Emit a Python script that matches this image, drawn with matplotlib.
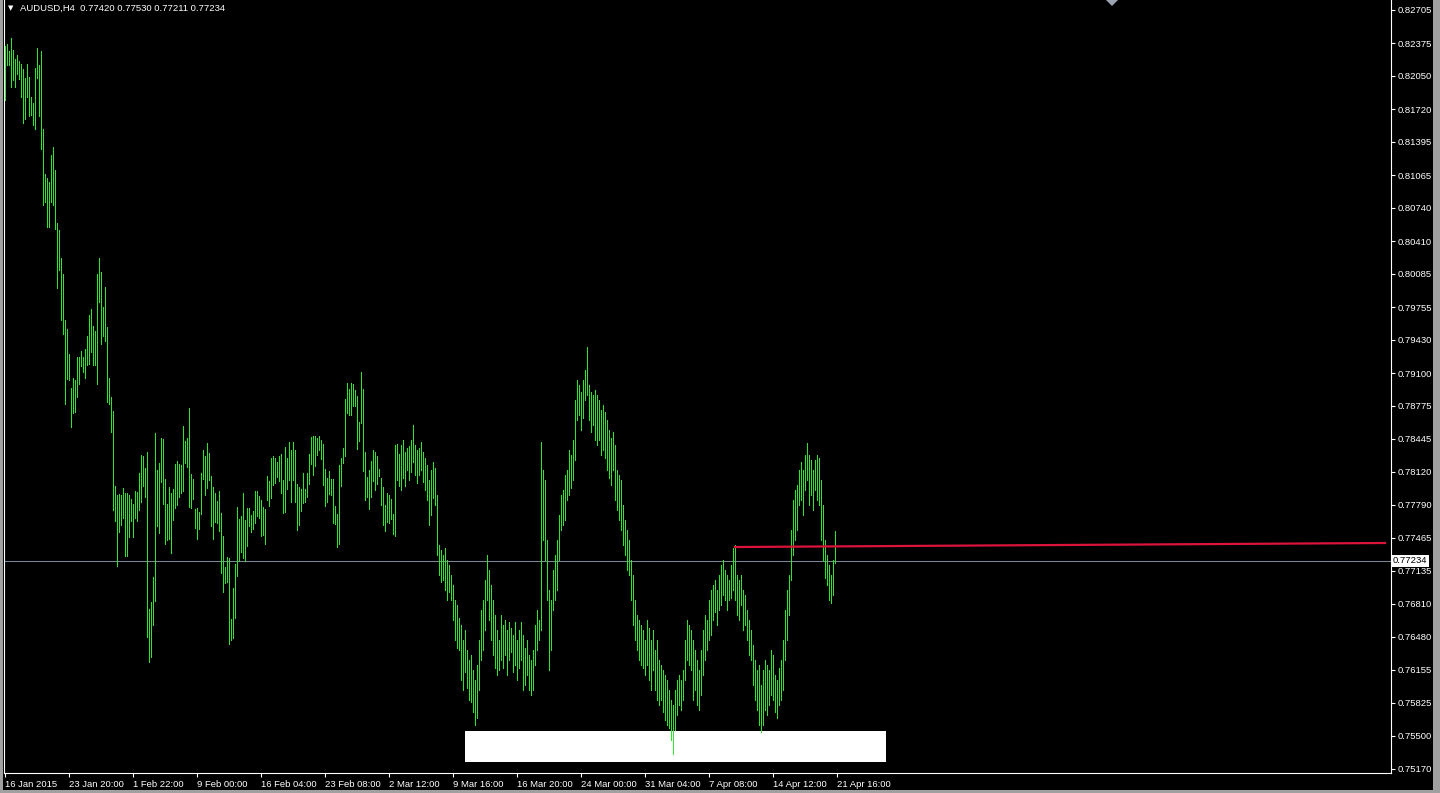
import matplotlib
matplotlib.use('Agg')
import matplotlib.pyplot as plt
from matplotlib.patches import Rectangle, Polygon

# H4 bars, high / low
highs = [
    0.82347, 0.82367, 0.82298, 0.82427, 0.82308, 0.82218, 0.82258, 0.82198, 0.82169, 0.82119,
    0.82029, 0.82169, 0.82039, 0.81841, 0.81781, 0.82129, 0.82327, 0.82159, 0.82298, 0.81523,
    0.81076, 0.81036, 0.80997, 0.81265, 0.81344, 0.81116, 0.80590, 0.80520, 0.80242, 0.80083,
    0.79626, 0.79537, 0.79289, 0.78951, 0.79051, 0.79031, 0.79259, 0.79259, 0.79319, 0.79259,
    0.79338, 0.79467, 0.79676, 0.79736, 0.79567, 0.79517, 0.80083, 0.80242, 0.80103, 0.79755,
    0.79954, 0.79557, 0.79051, 0.78862, 0.78723, 0.77978, 0.77889, 0.77899, 0.77889, 0.77958,
    0.77909, 0.77909, 0.77889, 0.77849, 0.77799, 0.77929, 0.77919, 0.78107, 0.78286, 0.78276,
    0.78157, 0.78316, 0.76757, 0.76826, 0.77074, 0.78504, 0.78137, 0.78206, 0.78455, 0.78445,
    0.78048, 0.77799, 0.77968, 0.77909, 0.77948, 0.78196, 0.78226, 0.78196, 0.78186, 0.78574,
    0.78425, 0.78455, 0.78753, 0.78097, 0.78048, 0.77750, 0.77760, 0.77720, 0.78107, 0.78336,
    0.78276, 0.78405, 0.78306, 0.78077, 0.77968, 0.77909, 0.77829, 0.77929, 0.77710, 0.77482,
    0.77174, 0.77273, 0.77263, 0.76657, 0.76963, 0.77204, 0.77770, 0.77650, 0.77680, 0.77909,
    0.77640, 0.77760, 0.77760, 0.77690, 0.77730, 0.77929, 0.77929, 0.77879, 0.77839, 0.77770,
    0.77750, 0.78077, 0.78028, 0.78256, 0.78276, 0.78256, 0.78216, 0.78276, 0.78296, 0.78038,
    0.78365, 0.78256, 0.78415, 0.78336, 0.78415, 0.78336, 0.77998, 0.77968, 0.77948, 0.78107,
    0.77948, 0.78107, 0.78296, 0.78465, 0.78475, 0.78475, 0.78455, 0.78475, 0.78435, 0.78395,
    0.78147, 0.78058, 0.78127, 0.78048, 0.78048, 0.77780, 0.77700, 0.78186, 0.78256, 0.78355,
    0.78842, 0.79001, 0.78941, 0.79001, 0.78991, 0.78931, 0.78872, 0.78614, 0.79110, 0.78941,
    0.78316, 0.78067, 0.78137, 0.78226, 0.78336, 0.78316, 0.78276, 0.78147, 0.78058, 0.77968,
    0.77789, 0.77909, 0.77889, 0.77849, 0.77700, 0.78385, 0.78395, 0.78296, 0.78385, 0.78435,
    0.78316, 0.78356, 0.78375, 0.78435, 0.78584, 0.78385, 0.78336, 0.78356, 0.78415, 0.78316,
    0.78256, 0.78186, 0.78038, 0.78137, 0.78216, 0.78157, 0.77889, 0.77392, 0.77343, 0.77293,
    0.77363, 0.77243, 0.77194, 0.77094, 0.76995, 0.76846, 0.76796, 0.76667, 0.76597, 0.76449,
    0.76548, 0.76349, 0.76250, 0.76299, 0.76151, 0.76052, 0.76200, 0.76449, 0.76747, 0.76846,
    0.77045, 0.77293, 0.77144, 0.76995, 0.76846, 0.76697, 0.76548, 0.76449, 0.76697, 0.76597,
    0.76647, 0.76548, 0.76627, 0.76568, 0.76498, 0.76627, 0.76449, 0.76548, 0.76627, 0.76498,
    0.76370, 0.76449, 0.76299, 0.76250, 0.76349, 0.76597, 0.76747, 0.76647, 0.78415, 0.78137,
    0.78038, 0.77442, 0.76945, 0.76846, 0.77144, 0.77293, 0.77442, 0.77690, 0.77889, 0.77938,
    0.78087, 0.78137, 0.78336, 0.78286, 0.78435, 0.78832, 0.79031, 0.78981, 0.78911, 0.79031,
    0.79130, 0.79358, 0.78981, 0.78911, 0.78882, 0.78931, 0.78882, 0.78832, 0.78733, 0.78782,
    0.78713, 0.78634, 0.78534, 0.78455, 0.78514, 0.78385, 0.78137, 0.78087, 0.78038, 0.77789,
    0.77640, 0.77541, 0.77442, 0.77243, 0.77094, 0.76846, 0.76697, 0.76647, 0.76597, 0.76548,
    0.76449, 0.76647, 0.76568, 0.76449, 0.76548, 0.76349, 0.76449, 0.76250, 0.76200, 0.76151,
    0.76101, 0.76052, 0.75952, 0.75853, 0.75803, 0.75952, 0.76052, 0.76101, 0.76052, 0.76151,
    0.76449, 0.76647, 0.76597, 0.76548, 0.76449, 0.76349, 0.76250, 0.76151, 0.76349, 0.76548,
    0.76697, 0.76647, 0.76846, 0.76945, 0.76995, 0.77045, 0.76945, 0.77094, 0.77194, 0.77243,
    0.77144, 0.77094, 0.77045, 0.77194, 0.77363, 0.77392, 0.77094, 0.77045, 0.77094, 0.76945,
    0.76895, 0.76747, 0.76647, 0.76548, 0.76399, 0.76250, 0.76151, 0.76200, 0.76002, 0.76151,
    0.76250, 0.76200, 0.76151, 0.76349, 0.76299, 0.76101, 0.76052, 0.76171, 0.76250, 0.76449,
    0.76747, 0.76945, 0.77094, 0.77541, 0.77839, 0.77938, 0.77988, 0.78137, 0.78216, 0.78137,
    0.78286, 0.78405, 0.78286, 0.78236, 0.78137, 0.78236, 0.78286, 0.78256, 0.78038, 0.77789,
    0.77442, 0.77293, 0.77194, 0.77094, 0.77243, 0.77530,
]
lows = [
    0.81811, 0.82159, 0.82159, 0.81940, 0.82010, 0.81940, 0.82069, 0.82020, 0.81841, 0.81583,
    0.81622, 0.81841, 0.81652, 0.81662, 0.81563, 0.81523, 0.82029, 0.81652, 0.81324, 0.80768,
    0.80798, 0.80550, 0.80550, 0.80798, 0.80768, 0.80530, 0.79944, 0.80123, 0.79626, 0.79487,
    0.78792, 0.79041, 0.79031, 0.78564, 0.78703, 0.78713, 0.78862, 0.78991, 0.79170, 0.79110,
    0.79051, 0.79180, 0.79190, 0.79309, 0.79180, 0.79180, 0.78991, 0.79805, 0.79388, 0.79468,
    0.79418, 0.78812, 0.78792, 0.78514, 0.77740, 0.77631, 0.77184, 0.77521, 0.77591, 0.77660,
    0.77283, 0.77283, 0.77472, 0.77631, 0.77472, 0.77660, 0.77631, 0.77740, 0.77820, 0.77978,
    0.77869, 0.76479, 0.76230, 0.76280, 0.76598, 0.76836, 0.77581, 0.77511, 0.78018, 0.77799,
    0.77402, 0.77442, 0.77452, 0.77313, 0.77640, 0.77760, 0.77789, 0.77869, 0.77909, 0.77929,
    0.78206, 0.78167, 0.77770, 0.77760, 0.77849, 0.77561, 0.77452, 0.77551, 0.77700, 0.78048,
    0.77889, 0.77958, 0.78038, 0.77581, 0.77452, 0.77621, 0.77611, 0.77531, 0.77110, 0.76922,
    0.77015, 0.77025, 0.76409, 0.76449, 0.76469, 0.76667, 0.77088, 0.77233, 0.77323, 0.77263,
    0.77233, 0.77382, 0.77581, 0.77521, 0.77551, 0.77611, 0.77680, 0.77660, 0.77482, 0.77492,
    0.77402, 0.77839, 0.77780, 0.77859, 0.77988, 0.78008, 0.78067, 0.78028, 0.77909, 0.77710,
    0.77720, 0.77948, 0.78038, 0.77820, 0.78038, 0.77820, 0.77541, 0.77591, 0.77730, 0.77809,
    0.77820, 0.77869, 0.77998, 0.78196, 0.78087, 0.78176, 0.78286, 0.78336, 0.78246, 0.77988,
    0.77780, 0.77820, 0.77899, 0.77889, 0.77611, 0.77601, 0.77372, 0.77402, 0.77978, 0.78206,
    0.78276, 0.78703, 0.78683, 0.78683, 0.78772, 0.78772, 0.78345, 0.78425, 0.78604, 0.78127,
    0.77839, 0.77869, 0.77750, 0.77869, 0.78028, 0.77938, 0.77998, 0.78077, 0.77789, 0.77591,
    0.77531, 0.77621, 0.77611, 0.77650, 0.77502, 0.77482, 0.78038, 0.77978, 0.77938, 0.78058,
    0.77978, 0.78137, 0.78038, 0.78117, 0.78216, 0.78087, 0.78008, 0.78087, 0.78137, 0.78018,
    0.77938, 0.77839, 0.77591, 0.77690, 0.77859, 0.77789, 0.77293, 0.77094, 0.77025, 0.77045,
    0.76945, 0.76846, 0.76925, 0.76846, 0.76647, 0.76449, 0.76370, 0.76349, 0.76052, 0.75952,
    0.76131, 0.75973, 0.75853, 0.75833, 0.75734, 0.75604, 0.75675, 0.75952, 0.76250, 0.76349,
    0.76548, 0.76846, 0.76647, 0.76449, 0.76299, 0.76171, 0.76101, 0.76151, 0.76250, 0.76171,
    0.76299, 0.76101, 0.76250, 0.76329, 0.76131, 0.76200, 0.76052, 0.76171, 0.76250, 0.75952,
    0.76002, 0.76101, 0.75952, 0.75902, 0.75952, 0.76200, 0.76349, 0.76449, 0.76548, 0.77442,
    0.77243, 0.76846, 0.76151, 0.76349, 0.76747, 0.76846, 0.76945, 0.77243, 0.77541, 0.77591,
    0.77640, 0.77839, 0.77889, 0.77958, 0.78038, 0.78236, 0.78634, 0.78683, 0.78534, 0.78653,
    0.78832, 0.78882, 0.78634, 0.78514, 0.78584, 0.78435, 0.78385, 0.78435, 0.78286, 0.78336,
    0.78256, 0.78137, 0.78058, 0.77988, 0.78137, 0.77839, 0.77740, 0.77640, 0.77541, 0.77392,
    0.77293, 0.77144, 0.77094, 0.76846, 0.76597, 0.76449, 0.76349, 0.76250, 0.76200, 0.76171,
    0.76101, 0.76200, 0.76052, 0.75952, 0.76151, 0.75952, 0.75853, 0.75803, 0.75853, 0.75734,
    0.75654, 0.75604, 0.75575, 0.75456, 0.75316, 0.75555, 0.75704, 0.75803, 0.75754, 0.75853,
    0.76052, 0.76250, 0.76200, 0.76151, 0.75853, 0.75952, 0.75803, 0.75754, 0.75902, 0.76101,
    0.76250, 0.76349, 0.76449, 0.76498, 0.76647, 0.76727, 0.76597, 0.76747, 0.76796, 0.76895,
    0.76846, 0.76747, 0.76846, 0.76866, 0.76945, 0.76846, 0.76697, 0.76647, 0.76796, 0.76548,
    0.76597, 0.76449, 0.76299, 0.76250, 0.76002, 0.75853, 0.75754, 0.75604, 0.75535, 0.75604,
    0.75754, 0.75704, 0.75803, 0.75902, 0.75853, 0.75734, 0.75675, 0.75803, 0.75853, 0.75952,
    0.76250, 0.76449, 0.76697, 0.77045, 0.77293, 0.77442, 0.77541, 0.77789, 0.77839, 0.77690,
    0.77938, 0.78038, 0.77789, 0.77889, 0.77740, 0.77938, 0.77839, 0.77789, 0.77442, 0.77243,
    0.77065, 0.76995, 0.76846, 0.76816, 0.76895, 0.77211,
]

symbol = 'AUDUSD,H4'
last_ohlc = ['0.77420', '0.77530', '0.77211', '0.77234']
bid = 0.77234

price_ticks = [0.82705, 0.82375, 0.82050, 0.81720, 0.81395, 0.81065, 0.80740, 0.80410,
               0.80085, 0.79755, 0.79430, 0.79100, 0.78775, 0.78445, 0.78120, 0.77790,
               0.77465, 0.77135, 0.76810, 0.76480, 0.76155, 0.75825, 0.75500, 0.75170]
time_labels = ['16 Jan 2015', '23 Jan 20:00', '1 Feb 22:00', '9 Feb 00:00', '16 Feb 04:00',
               '23 Feb 08:00', '2 Mar 12:00', '9 Mar 16:00', '16 Mar 20:00', '24 Mar 00:00',
               '31 Mar 04:00', '7 Apr 08:00', '14 Apr 12:00', '21 Apr 16:00']
bars_per_label = 32

# red level line (bar index, price)
level_x = [365, 690]
level_y = [0.77372, 0.77412]
# white box near the bottom (bar index, price)
box_x = [230, 440.5]
box_y = [0.75239, 0.75547]

W, H = 1440, 793
BAR_COLOR = '#2de52d'
FONT = 'Liberation Sans'

fig = plt.figure(figsize=(W / 100, H / 100), dpi=100, facecolor='black')
ax = fig.add_axes([4 / W, 20 / H, (1391 - 4) / W, 773 / H])
ax.set_facecolor('black')

xs = list(range(len(highs)))
ax.vlines(xs, lows, highs, colors=BAR_COLOR, linewidth=0.5, antialiased=False, zorder=3)

ax.add_patch(Rectangle((box_x[0], box_y[0]), box_x[1] - box_x[0], box_y[1] - box_y[0],
                       facecolor='white', edgecolor='none', zorder=1))
ax.axhline(bid, color='#778899', linewidth=0.75, zorder=2)
ax.plot(level_x, level_y, color='#dc143c', linewidth=1.6, zorder=4)

ax.set_xlim(-0.5, 693)
ax.set_ylim(0.75128, 0.82804)

for side in ['left', 'bottom', 'right']:
    ax.spines[side].set_color('white')
    ax.spines[side].set_linewidth(0.8)
ax.spines['top'].set_visible(False)

ax.yaxis.tick_right()
ax.set_yticks(price_ticks)
ax.set_yticklabels(['%.5f' % p for p in price_ticks])
ax.tick_params(axis='y', colors='white', length=3, width=0.8, pad=2,
               labelsize=6.8, labelfontfamily=FONT)
ax.set_xticks([i * bars_per_label for i in range(len(time_labels))])
ax.set_xticklabels(time_labels, ha='left')
ax.tick_params(axis='x', colors='white', length=3, width=0.8, pad=2,
               labelsize=6.8, labelfontfamily=FONT)

# current price label on the scale
ax.text(1.0015, bid, '%.5f' % bid, transform=ax.get_yaxis_transform(), ha='left', va='center',
        fontsize=6.8, family=FONT, color='black', zorder=6, clip_on=False,
        bbox=dict(boxstyle='square,pad=0.12', facecolor='white', edgecolor='none'))

# header
fig.text(8 / W, 1 - 8 / H, '\u25bc', color='white', fontsize=5, ha='left', va='center')
fig.text(20 / W, 1 - 8 / H, symbol + '  ' + ' '.join(last_ohlc), color='white',
         fontsize=6.8, family=FONT, ha='left', va='center')

# shift marker on the top edge
fig.patches.append(Polygon([[1106 / W, 1.0], [1118 / W, 1.0], [1112 / W, 1 - 6 / H]],
                           closed=True, transform=fig.transFigure, facecolor='#9aa4b4',
                           edgecolor='none'))
# window frame strips
for x0, y0, w, h in [(0, 0, 3, H), (1433, 0, 7, H), (0, 0, W, 3)]:
    fig.patches.append(Rectangle((x0 / W, y0 / H), w / W, h / H, transform=fig.transFigure,
                                 facecolor='#a0a0a0', edgecolor='none'))

fig.savefig('out.png', dpi=100, facecolor='black')
